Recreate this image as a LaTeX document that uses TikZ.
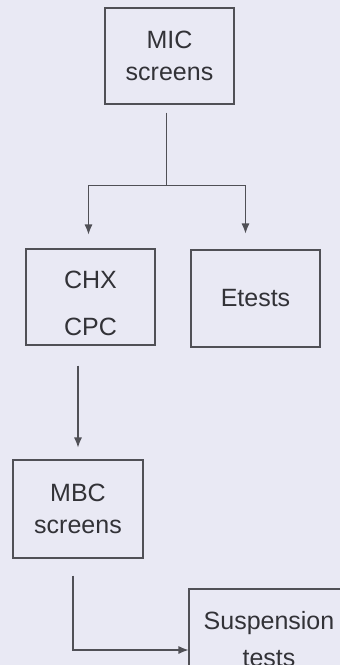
\documentclass[tikz,border=0pt]{standalone}
\usepackage{fontspec}
\setmainfont{Liberation Sans}
\usetikzlibrary{arrows.meta}
\definecolor{bgcol}{RGB}{233,233,244}
\definecolor{linecol}{RGB}{80,80,86}
\definecolor{textcol}{RGB}{50,50,55}
\begin{document}
\begin{tikzpicture}[
				x=1pt, y=1pt,
				box/.style={draw=linecol, line width=1.1pt, text=textcol, align=center,
					minimum width=129pt, minimum height=96pt, inner sep=0pt,
					font=\fontsize{25}{32}\selectfont},
				link/.style={draw=linecol, line width=1.1pt},
				arrowlink/.style={link, -{Latex[length=10pt, width=8pt]}}
				]
				\path[use as bounding box, fill=bgcol] (0,0) rectangle (340,-665);
				\clip (0,0) rectangle (340,-665);
				\node[box] (mic) at (169.5,-56) {MIC\\screens};
				\node[box] (chx) at (90.5,-297) {\rule{0pt}{30pt}CHX\\[15pt]CPC};
				\node[box, minimum height=97pt] (etests) at (255.5,-298.5) {Etests};
				\node[box, minimum width=130pt, minimum height=98pt] (mbc) at (78,-509) {MBC\\screens};
				\node[box, minimum width=160pt, minimum height=100pt] (susp) at (269,-639) {Suspension\\[5pt]tests};
				\coordinate (split) at ([xshift=-3pt, yshift=-81pt]mic.south);
				\draw[link, shorten <=8pt] ([xshift=-3pt]mic.south) -- (split);
				\draw[arrowlink, shorten >=14pt] (split) -| ([xshift=-2pt]chx.north);
				\draw[arrowlink, shorten >=16pt] (split) -| ([xshift=-10pt]etests.north);
				\draw[arrowlink, shorten <=20pt, shorten >=12pt] (chx.south -| mbc.north) -- (mbc.north);
				\draw[arrowlink, shorten <=17pt] ([xshift=-5pt]mbc.south) |- ([yshift=-11pt]susp.west);
			\end{tikzpicture}
\end{document}
